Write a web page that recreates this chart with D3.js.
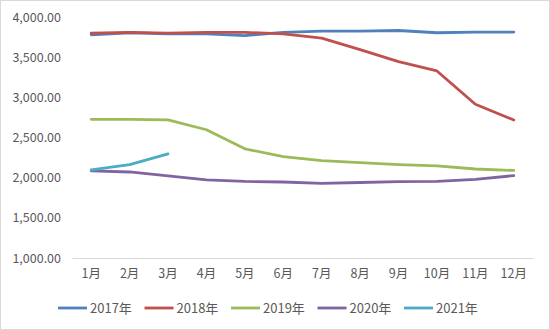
<!DOCTYPE html>
<html>
<head>
<meta charset="utf-8">
<script src="https://cdn.jsdelivr.net/npm/d3@7"></script>
<style>
  html, body { margin: 0; padding: 0; background: #fff; }
  svg { display: block; }
</style>
</head>
<body>
<svg id="chart" width="550" height="330"></svg>
<script>
const months = ["1月","2月","3月","4月","5月","6月","7月","8月","9月","10月","11月","12月"];
const seriesNames = ["2017年","2018年","2019年","2020年","2021年"];
const colors = ["#4F81BD","#C0504D","#9BBB59","#8064A2","#4BACC6"];
const yTicks = [1000,1500,2000,2500,3000,3500,4000];

const v2017 = [3785,3810,3795,3795,3775,3815,3830,3830,3838,3810,3818,3818];
const v2018 = [3805,3815,3805,3815,3815,3795,3742,3600,3450,3333,2918,2722];
const v2019 = [2730,2730,2722,2600,2362,2264,2214,2190,2165,2148,2110,2092];
const v2020 = [2086,2073,2025,1975,1955,1948,1930,1942,1952,1955,1982,2027];
const v2021 = [2098,2165,2298];
const allSeries = [v2017, v2018, v2019, v2020, v2021];

const svg = d3.select("#chart");
const W = 550, H = 330;
const margin = {left: 72, right: 17, top: 17.5, bottom: 72};
const fontFam = "'Noto Sans CJK SC', 'DejaVu Sans', sans-serif";
const fontSize = "12.5px";

// outer frame
svg.append("rect")
  .attr("x", 0.5).attr("y", 0.5)
  .attr("width", W - 1).attr("height", H - 1)
  .attr("fill", "#fff").attr("stroke", "#d9d9d9");

const x = d3.scaleBand().domain(months).range([margin.left, W - margin.right]);
const y = d3.scaleLinear().domain([1000, 4000]).range([H - margin.bottom, margin.top]);

// y axis labels
const yAxis = d3.axisLeft(y).tickValues(yTicks).tickSize(0).tickPadding(11)
  .tickFormat(d3.format(",.2f"));
const gy = svg.append("g").attr("transform", `translate(${margin.left},0)`).call(yAxis);
gy.select(".domain").remove();
gy.selectAll("text").attr("fill", "#595959").style("font-size", fontSize).style("font-family", fontFam);

// x axis
const xAxis = d3.axisBottom(x).tickSize(0).tickPadding(11);
const gx = svg.append("g").attr("transform", `translate(0,${H - margin.bottom})`).call(xAxis);
gx.select(".domain").attr("stroke", "#d9d9d9").attr("stroke-width", 1);
gx.selectAll("text").attr("fill", "#595959").style("font-size", fontSize).style("font-family", fontFam);

// lines
const line = d3.line()
  .x((d, i) => x(months[i]) + x.bandwidth() / 2)
  .y(d => y(d));

svg.append("g").selectAll("path")
  .data(allSeries)
  .join("path")
  .attr("d", d => line(d))
  .attr("fill", "none")
  .attr("stroke", (d, i) => colors[i])
  .attr("stroke-width", 2.8)
  .attr("stroke-linejoin", "round")
  .attr("stroke-linecap", "round");

// legend
const legend = svg.append("g").attr("transform", "translate(58,308)");
const items = legend.selectAll("g").data(seriesNames).join("g")
  .attr("transform", (d, i) => `translate(${i * 86.5},0)`);
items.append("line")
  .attr("x1", 0).attr("x2", 29).attr("y1", 0).attr("y2", 0)
  .attr("stroke", (d, i) => colors[i]).attr("stroke-width", 2.8);
items.append("text")
  .attr("x", 32).attr("y", 0).attr("dy", "0.36em")
  .attr("fill", "#595959").style("font-size", "13px").style("font-family", fontFam)
  .text(d => d);
</script>
</body>
</html>
